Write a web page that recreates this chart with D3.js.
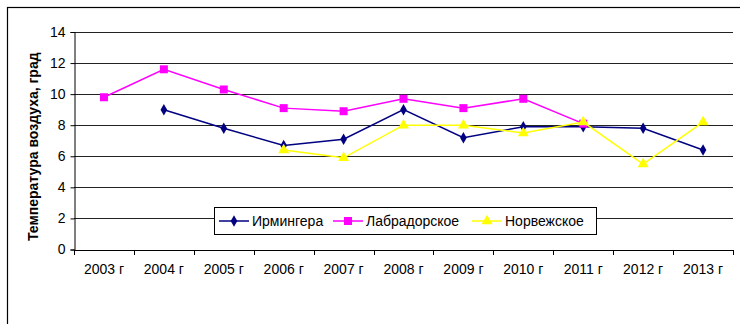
<!DOCTYPE html>
<html>
<head>
<meta charset="utf-8">
<script src="https://cdn.jsdelivr.net/npm/d3@7"></script>
<style>
  html, body { margin: 0; padding: 0; background: #fff; }
  svg { display: block; }
</style>
</head>
<body>
<svg id="chart" width="740" height="324"></svg>
<script>
// Years on the category axis
const years = ["2003 г", "2004 г", "2005 г", "2006 г", "2007 г", "2008 г", "2009 г", "2010 г", "2011 г", "2012 г", "2013 г"];
// Air temperature, °C (null = no observation)
const irminger   = [null, 9.0, 7.8, 6.7, 7.1, 9.0, 7.2, 7.9, 7.9, 7.8, 6.4];
const labrador   = [9.8, 11.6, 10.3, 9.1, 8.9, 9.7, 9.1, 9.7, 8.1, null, null];
const norwegian  = [null, null, null, 6.4, 5.9, 8.0, 8.0, 7.5, 8.2, 5.5, 8.2];
const seriesNames = ["Ирмингера", "Лабрадорское", "Норвежское"];
const yTicks = [0, 2, 4, 6, 8, 10, 12, 14];

const svg = d3.select("#chart");
const font = "'Liberation Sans', Arial, sans-serif";
const fs = 14;

// Outer frame
svg.append("rect").attr("x", 7.5).attr("y", 7.5).attr("width", 760).attr("height", 340)
  .attr("fill", "none").attr("stroke", "#000").attr("stroke-width", 1.2);

const plot = { left: 74, right: 733, top: 32, bottom: 249.5 };

const x = d3.scaleBand().domain(years).range([plot.left, plot.right]);
const y = d3.scaleLinear().domain([0, 14]).range([plot.bottom, plot.top]);

// Horizontal gridlines
svg.append("g").selectAll("line").data(yTicks.filter(d => d > 0)).join("line")
  .attr("x1", plot.left).attr("x2", plot.right)
  .attr("y1", d => Math.round(y(d)) + 0.5).attr("y2", d => Math.round(y(d)) + 0.5)
  .attr("stroke", "#222").attr("stroke-width", 1);

// Y axis
const yAxis = svg.append("g").attr("transform", `translate(${plot.left + 0.5},0)`)
  .call(d3.axisLeft(y).tickValues(yTicks).tickSize(4).tickPadding(5).tickFormat(d3.format("d")));
yAxis.select(".domain").attr("stroke", "#000");
yAxis.selectAll("line").attr("stroke", "#000");
yAxis.selectAll("text").attr("font-family", font).attr("font-size", fs).attr("fill", "#000");

// X axis with ticks on category boundaries
const xAxis = svg.append("g").attr("transform", `translate(0,${Math.round(plot.bottom) + 0.5})`)
  .call(d3.axisBottom(x).tickSize(0).tickPadding(14));
xAxis.select(".domain").attr("stroke", "#000").attr("d", `M${plot.left},0H${plot.right}`);
xAxis.selectAll("text").attr("font-family", font).attr("font-size", fs).attr("fill", "#000");
svg.append("g").selectAll("line").data(d3.range(years.length + 1)).join("line")
  .attr("x1", i => Math.round(plot.left + i * x.bandwidth()) + 0.5)
  .attr("x2", i => Math.round(plot.left + i * x.bandwidth()) + 0.5)
  .attr("y1", Math.round(plot.bottom)).attr("y2", Math.round(plot.bottom) + 5)
  .attr("stroke", "#000");

// Y axis title
svg.append("text")
  .attr("transform", `translate(38,${(plot.top + plot.bottom) / 2 + 6}) rotate(-90)`)
  .attr("text-anchor", "middle").attr("font-family", font).attr("font-size", fs)
  .attr("font-weight", "bold").text("Температура воздуха, град");

const cx = i => x(years[i]) + x.bandwidth() / 2;

const series = [
  { name: seriesNames[0], values: irminger,  color: "#000080", symbol: d3.symbolDiamond, size: 38 },
  { name: seriesNames[1], values: labrador,  color: "#FF00FF", symbol: d3.symbolSquare,  size: 64 },
  { name: seriesNames[2], values: norwegian, color: "#FFFF00", symbol: d3.symbolTriangle, size: 52 }
];

const line = d3.line().defined(d => d.v !== null).x(d => cx(d.i)).y(d => y(d.v));

series.forEach(s => {
  const pts = s.values.map((v, i) => ({ v, i }));
  svg.append("path").datum(pts).attr("d", line)
    .attr("fill", "none").attr("stroke", s.color).attr("stroke-width", 1.5);
  svg.append("g").selectAll("path").data(pts.filter(d => d.v !== null)).join("path")
    .attr("transform", d => `translate(${cx(d.i)},${y(d.v)})`)
    .attr("d", d3.symbol().type(s.symbol).size(s.size)())
    .attr("fill", s.color);
});

// Legend
const lg = svg.append("g");
lg.append("rect").attr("x", 214.5).attr("y", 207.5).attr("width", 382).attr("height", 27)
  .attr("fill", "#fff").attr("stroke", "#000").attr("stroke-width", 1);
const legendItems = [
  { x: 219, tx: 252 },
  { x: 333, tx: 366 },
  { x: 472, tx: 505 }
];
series.forEach((s, k) => {
  const it = legendItems[k];
  const ly = 221;
  lg.append("line").attr("x1", it.x).attr("x2", it.x + 30).attr("y1", ly).attr("y2", ly)
    .attr("stroke", s.color).attr("stroke-width", 1.5);
  lg.append("path").attr("transform", `translate(${it.x + 15},${ly})`)
    .attr("d", d3.symbol().type(s.symbol).size(s.size)()).attr("fill", s.color);
  lg.append("text").attr("x", it.tx).attr("y", ly + 5).attr("font-family", font)
    .attr("font-size", fs).attr("fill", "#000").text(s.name);
});
</script>
</body>
</html>
